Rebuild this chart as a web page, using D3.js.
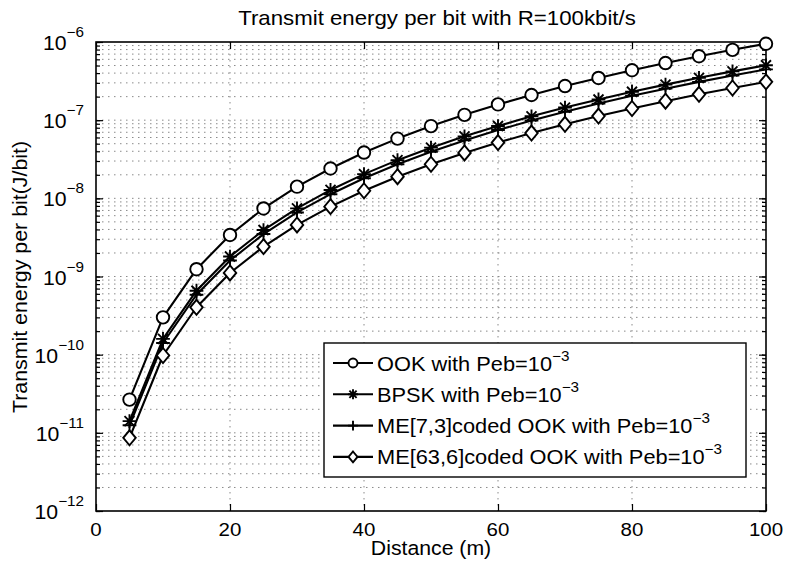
<!DOCTYPE html>
<html>
<head>
<meta charset="utf-8">
<script src="https://cdn.jsdelivr.net/npm/d3@7"></script>
<style>
  html, body { margin: 0; padding: 0; background: #fff; }
  svg { display: block; }
  text { font-family: "Liberation Sans", Arial, Helvetica, sans-serif; fill: #000; }
</style>
</head>
<body>
<svg id="chart" width="787" height="564"></svg>
<script>
// ---------------- data ----------------
const distance = [5, 10, 15, 20, 25, 30, 35, 40, 45, 50, 55, 60, 65, 70, 75, 80, 85, 90, 95, 100];
const ook  = [2.66e-11, 3.00e-10, 1.24e-9, 3.40e-9, 7.42e-9, 1.41e-8, 2.41e-8, 3.85e-8, 5.81e-8, 8.40e-8,
              1.17e-7, 1.59e-7, 2.10e-7, 2.73e-7, 3.47e-7, 4.35e-7, 5.38e-7, 6.57e-7, 7.94e-7, 9.50e-7];
const bpsk = [1.41e-11, 1.59e-10, 6.58e-10, 1.80e-9, 3.93e-9, 7.45e-9, 1.28e-8, 2.04e-8, 3.08e-8, 4.45e-8,
              6.21e-8, 8.42e-8, 1.12e-7, 1.45e-7, 1.84e-7, 2.31e-7, 2.85e-7, 3.48e-7, 4.21e-7, 5.04e-7];
const me73 = [1.25e-11, 1.41e-10, 5.84e-10, 1.60e-9, 3.49e-9, 6.60e-9, 1.13e-8, 1.81e-8, 2.73e-8, 3.95e-8,
              5.51e-8, 7.47e-8, 9.89e-8, 1.28e-7, 1.63e-7, 2.05e-7, 2.53e-7, 3.09e-7, 3.73e-7, 4.47e-7];
const me63 = [8.63e-12, 9.76e-11, 4.04e-10, 1.11e-9, 2.41e-9, 4.57e-9, 7.83e-9, 1.25e-8, 1.89e-8, 2.73e-8,
              3.81e-8, 5.17e-8, 6.84e-8, 8.86e-8, 1.13e-7, 1.41e-7, 1.75e-7, 2.14e-7, 2.58e-7, 3.09e-7];
const seriesNames = ["OOK with Peb=10", "BPSK with Peb=10", "ME[7,3]coded OOK with Peb=10", "ME[63,6]coded OOK with Peb=10"];
const seriesSup = "\u22123";
const seriesMarkers = ["circle", "asterisk", "plus", "diamond"];
const xTicks = [0, 20, 40, 60, 80, 100];
const yTickExps = [-12, -11, -10, -9, -8, -7, -6];
const titleText = "Transmit energy per bit with R=100kbit/s";
const xLabel = "Distance (m)";
const yLabel = "Transmit energy per bit(J/bit)";

// ---------------- layout ----------------
const L = 96, R = 766, T = 42, B = 511;
const SX = 1.09; // horizontal glyph stretch
const svg = d3.select("#chart");
const x = d3.scaleLinear().domain([0, 100]).range([L, R]);
const y = d3.scaleLog().domain([1e-12, 1e-6]).range([B, T]);

function stretchedText(parent, tx, ty, rot, anchor, size) {
  const g = parent.append("g")
    .attr("transform", `translate(${tx},${ty})` + (rot ? ` rotate(${rot})` : "") + ` scale(${SX},1)`);
  return g.append("text").attr("text-anchor", anchor).attr("font-size", size);
}

// ---------------- grid ----------------
const minorVals = [];
yTickExps.forEach(e => {
  for (let k = 1; k <= 9; k++) {
    const v = k * Math.pow(10, e);
    if (v <= 1.0000001e-6) minorVals.push(v);
  }
});
const grid = svg.append("g");
grid.selectAll("line.h").data(minorVals.filter(v => v > 1.0001e-12 && v < 0.9999e-6)).enter()
  .append("line")
  .attr("x1", L).attr("x2", R)
  .attr("y1", d => y(d)).attr("y2", d => y(d))
  .attr("stroke", "#8a8a8a").attr("stroke-width", 1)
  .attr("stroke-dasharray", "1.5,4.5");
grid.selectAll("line.v").data(xTicks.filter(t => t > 0 && t < 100)).enter()
  .append("line")
  .attr("y1", T).attr("y2", B)
  .attr("x1", d => x(d)).attr("x2", d => x(d))
  .attr("stroke", "#8a8a8a").attr("stroke-width", 1)
  .attr("stroke-dasharray", "1.5,4.5");

// ---------------- axes (inward ticks) ----------------
const xAxisB = d3.axisBottom(x).tickValues(xTicks).tickSize(-7).tickFormat("");
const xAxisT = d3.axisTop(x).tickValues(xTicks).tickSize(-7).tickFormat("");
const majorY = yTickExps.map(e => Math.pow(10, e));
const yAxisL = d3.axisLeft(y).tickValues(majorY).tickSize(-7).tickFormat("");
const yAxisR = d3.axisRight(y).tickValues(majorY).tickSize(-7).tickFormat("");
const yAxisLm = d3.axisLeft(y).tickValues(minorVals).tickSize(-4).tickFormat("");
const yAxisRm = d3.axisRight(y).tickValues(minorVals).tickSize(-4).tickFormat("");
[[xAxisB, `translate(0,${B})`], [xAxisT, `translate(0,${T})`],
 [yAxisL, `translate(${L},0)`], [yAxisR, `translate(${R},0)`],
 [yAxisLm, `translate(${L},0)`], [yAxisRm, `translate(${R},0)`]].forEach(([ax, tr]) => {
  const g = svg.append("g").attr("transform", tr).call(ax);
  g.select(".domain").remove();
  g.selectAll(".tick line").attr("stroke", "#000").attr("stroke-width", 1.2);
});
svg.append("rect").attr("x", L).attr("y", T).attr("width", R - L).attr("height", B - T)
  .attr("fill", "none").attr("stroke", "#000").attr("stroke-width", 1.6);

// x tick labels
xTicks.forEach(t => {
  stretchedText(svg, x(t), B + 25, 0, "middle", 18.8).text(t);
});
// y tick labels 10^n
yTickExps.forEach(e => {
  const t = stretchedText(svg, 84, y(Math.pow(10, e)) + 8, 0, "end", 19.5);
  t.append("tspan").text("10");
  t.append("tspan").attr("font-size", 14).attr("dy", -13).text("\u2212" + (-e));
});

// labels
stretchedText(svg, 437, 25, 0, "middle", 20.4).text(titleText);
stretchedText(svg, 431, 555, 0, "middle", 19.5).text(xLabel);
stretchedText(svg, 27, 277, -90, "middle", 19.6).text(yLabel);

// ---------------- series ----------------
const allSeries = [ook, bpsk, me73, me63];
const line = d3.line().x((d, i) => x(distance[i])).y(d => y(d));
const plot = svg.append("g");

function drawMarker(g, type, cx, cy, s) {
  const st = { stroke: "#000", "stroke-width": 1.9 };
  const apply = el => { Object.entries(st).forEach(([k, v]) => el.attr(k, v)); return el; };
  if (type === "circle") {
    apply(g.append("ellipse").attr("cx", cx).attr("cy", cy).attr("rx", s * 0.5).attr("ry", s * 0.5).attr("fill", "#fff"));
  } else if (type === "diamond") {
    const w = s * 0.5, h = s * 0.6;
    apply(g.append("path").attr("d", `M${cx},${cy - h}L${cx + w},${cy}L${cx},${cy + h}L${cx - w},${cy}Z`).attr("fill", "#fff"));
  } else if (type === "plus") {
    const h = s * 0.55;
    apply(g.append("path").attr("d", `M${cx - h},${cy}H${cx + h}M${cx},${cy - h}V${cy + h}`).attr("fill", "none"));
  } else if (type === "asterisk") {
    const h = s * 0.55, d = s * 0.4;
    apply(g.append("path").attr("d",
      `M${cx - h},${cy}H${cx + h}M${cx},${cy - h}V${cy + h}M${cx - d},${cy - d}L${cx + d},${cy + d}M${cx - d},${cy + d}L${cx + d},${cy - d}`)
      .attr("fill", "none"));
  }
}

allSeries.forEach((vals, si) => {
  plot.append("path").datum(vals).attr("d", line)
    .attr("fill", "none").attr("stroke", "#000").attr("stroke-width", 2.1)
    .attr("stroke-linejoin", "round");
});
allSeries.forEach((vals, si) => {
  const g = plot.append("g");
  vals.forEach((v, i) => drawMarker(g, seriesMarkers[si], x(distance[i]), y(v), 12.5));
});

// ---------------- legend ----------------
const lg = svg.append("g");
lg.append("rect").attr("x", 324).attr("y", 343).attr("width", 422).attr("height", 134)
  .attr("fill", "#fff").attr("stroke", "#000").attr("stroke-width", 1.4);
seriesNames.forEach((name, i) => {
  const cy = 363 + i * 31.3;
  lg.append("line").attr("x1", 333).attr("x2", 373).attr("y1", cy).attr("y2", cy)
    .attr("stroke", "#000").attr("stroke-width", 2.1);
  drawMarker(lg, seriesMarkers[i], 353, cy, 9);
  const t = stretchedText(lg, 377, cy + 7.5, 0, "start", 20);
  t.append("tspan").text(name);
  t.append("tspan").attr("font-size", 14).attr("dy", -10).text(seriesSup);
});
</script>
</body>
</html>
